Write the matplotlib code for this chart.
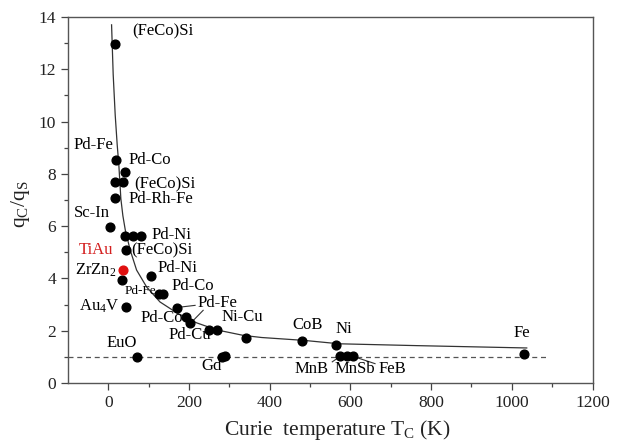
import matplotlib
matplotlib.use("Agg")
import matplotlib.pyplot as plt

plt.rcParams['font.family'] = ['Liberation Serif', 'DejaVu Serif']
plt.rcParams['mathtext.fontset'] = 'custom'
plt.rcParams['mathtext.rm'] = 'Liberation Serif'
plt.rcParams['mathtext.it'] = 'Liberation Serif:italic'

# Data points (Curie temperature, qc/qs)
tc_black = [17, 19, 41, 17, 37, 17, 4, 41, 60, 81, 43, 33, 105, 126, 136, 43,
            170, 193, 202, 250, 269, 341, 479, 70, 282, 289, 564, 574, 591, 607, 1031]
q_black = [12.98, 8.52, 8.07, 7.69, 7.69, 7.09, 5.97, 5.61, 5.61, 5.61, 5.08, 3.93, 4.08,
           3.39, 3.39, 2.91, 2.88, 2.53, 2.30, 2.02, 2.02, 1.72, 1.61, 0.99, 0.99, 1.03,
           1.44, 1.02, 1.02, 1.02, 1.10]
tc_red = [36]
q_red = [4.31]

# Fitted curve
curve_t = [8, 12, 17, 22, 26, 31, 36, 42, 54, 70, 95, 128, 170, 219, 269, 335, 380, 485, 572, 763, 1037]
curve_q = [13.7, 11.8, 10.25, 9.1, 8.34, 7.05, 6.4, 5.85, 5.09, 4.32, 3.67, 3.1, 2.68, 2.3, 2.03,
           1.82, 1.74, 1.63, 1.50, 1.43, 1.34]

# Labels: (text, x, y, ha, size, color)
labels = [
    ("(FeCo)Si", 60, 13.45, 'left', 12, 'black'),
    ("Pd-Fe", 13, 9.1, 'right', 12, 'black'),
    ("Pd-Co", 50, 8.53, 'left', 12, 'black'),
    ("(FeCo)Si", 65, 7.6, 'left', 12, 'black'),
    ("Pd-Rh-Fe", 50, 7.04, 'left', 12, 'black'),
    ("Sc-In", 5, 6.52, 'right', 12, 'black'),
    ("Pd-Ni", 107, 5.66, 'left', 12, 'black'),
    ("(FeCo)Si", 57, 5.09, 'left', 12, 'black'),
    ("TiAu", 12, 5.09, 'right', 12, '#d42020'),
    ("ZrZn$_2$", 20, 4.32, 'right', 12, 'black'),
    ("Pd-Ni", 122, 4.4, 'left', 12, 'black'),
    ("Pd-Co", 157, 3.71, 'left', 12, 'black'),
    ("Pd-Fe", 40, 3.5, 'left', 9.5, 'black'),
    ("Au$_4$V", 28, 2.95, 'right', 12, 'black'),
    ("Pd-Fe", 220, 3.06, 'left', 12, 'black'),
    ("Pd-Co", 80, 2.49, 'left', 12, 'black'),
    ("Pd-Cu", 150, 1.84, 'left', 12, 'black'),
    ("Ni-Cu", 280, 2.52, 'left', 12, 'black'),
    ("CoB", 455, 2.22, 'left', 12, 'black'),
    ("Ni", 562, 2.06, 'left', 12, 'black'),
    ("Fe", 1003, 1.92, 'left', 12, 'black'),
    ("EuO", -5, 1.53, 'left', 12, 'black'),
    ("Gd", 230, 0.66, 'left', 12, 'black'),
    ("MnB", 462, 0.52, 'left', 12, 'black'),
    ("MnSb", 560, 0.52, 'left', 12, 'black'),
    ("FeB", 670, 0.52, 'left', 12, 'black'),
]

# Leader lines (x0, x1, y0, y1)
leaders = [
    ([182, 215], [2.91, 2.97]),
    ([211, 235], [2.40, 2.78]),
    ([555, 570], [0.81, 0.97]),
    ([616, 661], [0.97, 0.74]),
]

fig = plt.figure(figsize=(6.28, 4.43), dpi=100)
ax = fig.add_axes([68 / 628, 60 / 443, 524.5 / 628, 366 / 443])

ax.plot(curve_t, curve_q, color='#333333', lw=0.9, zorder=2)
ax.plot([-100, 1090], [1, 1], color='#555555', lw=0.9, ls=(0, (4, 3)), zorder=1)
ax.plot(tc_black, q_black, 'o', color='black', ms=6.3, zorder=3)
ax.plot(tc_red, q_red, 'o', color='#e01010', ms=6.3, zorder=3)

for xs, ys in leaders:
    ax.plot(xs, ys, color='#333333', lw=0.8, zorder=2)

for txt, x, y, ha, size, col in labels:
    ax.text(x, y, txt, ha=ha, va='center', fontsize=size, color=col)

ax.set_xlim(-100, 1200)
ax.set_ylim(0, 14)
ax.set_xticks([0, 200, 400, 600, 800, 1000, 1200])
ax.set_xticks([100, 300, 500, 700, 900, 1100], minor=True)
ax.set_yticks([0, 2, 4, 6, 8, 10, 12, 14])
ax.set_yticks([1, 3, 5, 7, 9, 11, 13], minor=True)
ax.tick_params(which='major', direction='out', length=5, width=0.9, colors='#444444',
               labelsize=12.5, labelcolor='#222222')
ax.tick_params(which='minor', direction='out', length=3, width=0.9, colors='#444444')
for s in ax.spines.values():
    s.set_color('#555555')
    s.set_linewidth(1.0)

ax.set_xlabel("Curie  temperature T$_\\mathrm{C}$ (K)", fontsize=15.5, color='#222222')
ax.xaxis.set_label_coords(0.513, -0.095)
ax.set_ylabel("q$_\\mathrm{C}$/q$_\\mathrm{S}$", fontsize=15.5, color='#222222')
ax.yaxis.set_label_coords(-0.068, 0.49)

fig.savefig("out.png", dpi=100)
